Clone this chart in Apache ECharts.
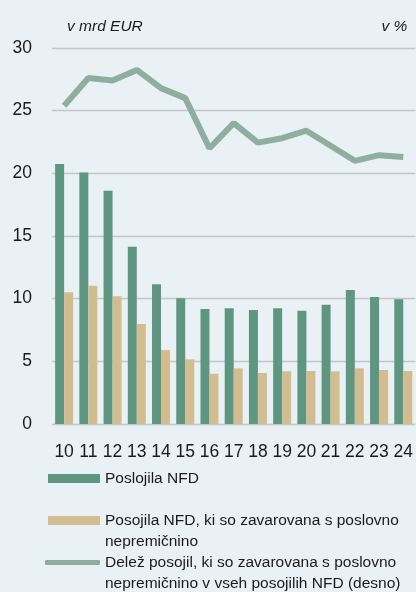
<!DOCTYPE html>
<html>
<head>
<meta charset="utf-8">
<script src="https://cdn.jsdelivr.net/npm/echarts@6/dist/echarts.min.js"></script>
<style>
  html, body { margin: 0; padding: 0; background: #e9f1f4; }
  #chart { width: 416px; height: 592px; }
</style>
</head>
<body>
<div id="chart"></div>
<script>
// leta (2010-2024)
var years = ['10', '11', '12', '13', '14', '15', '16', '17', '18', '19', '20', '21', '22', '23', '24'];
// v mrd EUR
var loansNFD = [20.75, 20.06, 18.62, 14.15, 11.15, 10.03, 9.18, 9.23, 9.10, 9.23, 9.04, 9.52, 10.70, 10.14, 9.95];
var loansCRE = [10.52, 11.04, 10.20, 7.98, 5.90, 5.16, 4.01, 4.44, 4.07, 4.20, 4.23, 4.20, 4.44, 4.31, 4.23];
// v % (desno)
var shareCRE = [50.8, 55.2, 54.8, 56.5, 53.6, 52.0, 44.0, 48.0, 44.9, 45.6, 46.8, 44.4, 42.0, 42.9, 42.6];
var leftTicks = [0, 30, 5];
var rightTicks = [0, 60, 10];

var nameNFD = 'Poslojila NFD';
var nameCRE = 'Posojila NFD, ki so zavarovana s poslovno nepremičnino';
var nameShare = 'Delež posojil, ki so zavarovana s poslovno nepremičnino v vseh posojilih NFD (desno)';

var font = '"Liberation Sans", Arial, sans-serif';

var myChart = echarts.init(document.getElementById('chart'));
var option = {
    backgroundColor: '#e9f1f4',
    animation: false,
    grid: {
        left: 52,
        right: 0,
        top: 48,
        bottom: 168,
        containLabel: false
    },
    legend: [{
        data: [nameNFD],
        left: 48,
        top: 468,
        padding: 0,
        icon: 'rect',
        itemWidth: 52,
        itemHeight: 9,
        textStyle: { fontFamily: font, fontSize: 15.5, color: '#1a1a1a', lineHeight: 21 }
    }, {
        data: [nameCRE],
        left: 48,
        top: 489,
        padding: 0,
        icon: 'rect',
        itemWidth: 52,
        itemHeight: 9,
        formatter: function () {
            // prazna prva vrstica: ikona ostane ob prvi vrstici besedila
            return '\nPosojila NFD, ki so zavarovana s poslovno\nnepremičnino';
        },
        textStyle: { fontFamily: font, fontSize: 15.5, color: '#1a1a1a', lineHeight: 21 }
    }, {
        data: [nameShare],
        left: 45,
        top: 531,
        padding: 0,
        icon: 'roundRect',
        itemWidth: 55,
        itemHeight: 5,
        formatter: function () {
            return '\nDelež posojil, ki so zavarovana s poslovno\nnepremičnino v vseh posojilih NFD (desno)';
        },
        textStyle: { fontFamily: font, fontSize: 15.5, color: '#1a1a1a', lineHeight: 21 }
    }],
    xAxis: {
        type: 'category',
        data: years,
        axisLine: { show: false },
        axisTick: { show: false },
        axisLabel: {
            interval: 0,
            margin: 19,
            fontFamily: font,
            fontSize: 17.5,
            color: '#1a1a1a'
        }
    },
    yAxis: [{
        type: 'value',
        min: leftTicks[0],
        max: leftTicks[1],
        interval: leftTicks[2],
        name: 'v mrd EUR',
        nameLocation: 'end',
        nameGap: 21,
        nameTextStyle: {
            fontFamily: font,
            fontStyle: 'italic',
            fontSize: 15.5,
            color: '#1a1a1a',
            align: 'left',
            verticalAlign: 'middle',
            padding: [0, 0, 0, 15]
        },
        axisLine: { show: false },
        axisTick: { show: false },
        axisLabel: {
            margin: 20,
            fontFamily: font,
            fontSize: 17.5,
            color: '#1a1a1a'
        },
        splitLine: { lineStyle: { color: '#c4c6c8', width: 1.3 } }
    }, {
        type: 'value',
        position: 'right',
        min: rightTicks[0],
        max: rightTicks[1],
        interval: rightTicks[2],
        name: 'v %',
        nameLocation: 'end',
        nameGap: 21,
        nameTextStyle: {
            fontFamily: font,
            fontStyle: 'italic',
            fontSize: 15.5,
            color: '#1a1a1a',
            align: 'right',
            verticalAlign: 'middle',
            padding: [0, 8, 0, 0]
        },
        axisLine: { show: false },
        axisTick: { show: false },
        axisLabel: { show: false },
        splitLine: { show: false }
    }],
    series: [{
        name: nameNFD,
        type: 'bar',
        data: loansNFD,
        barWidth: 9,
        barGap: '0%',
        itemStyle: { color: '#5e9682' }
    }, {
        name: nameCRE,
        type: 'bar',
        data: loansCRE,
        barWidth: 9,
        itemStyle: { color: '#d1bd8f' }
    }, {
        name: nameShare,
        type: 'line',
        yAxisIndex: 1,
        data: shareCRE,
        symbol: 'none',
        lineStyle: { color: '#8fae9f', width: 6 },
        itemStyle: { color: '#8fae9f' }
    }]
};
myChart.setOption(option);
</script>
</body>
</html>
